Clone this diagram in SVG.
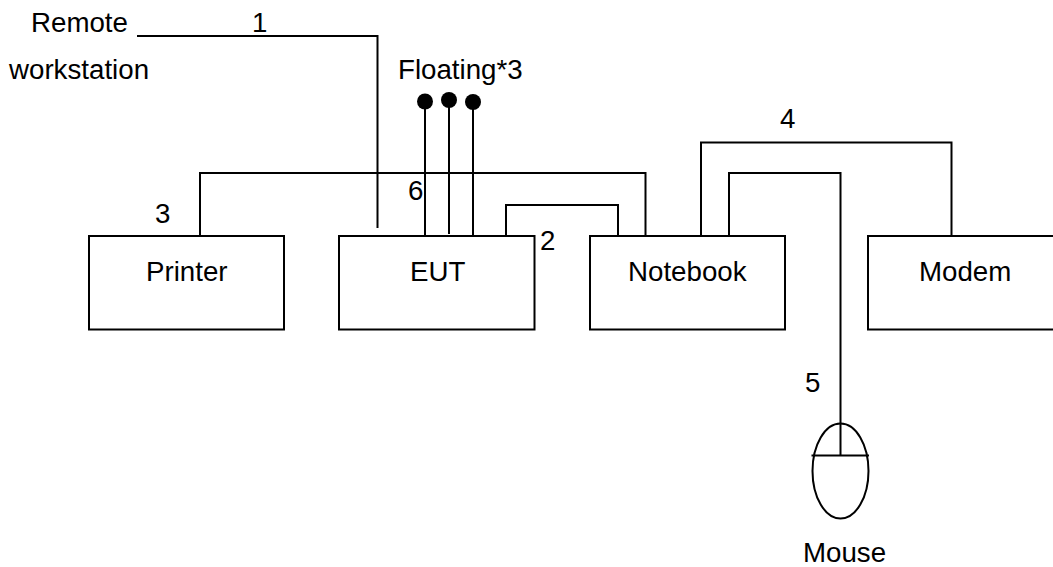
<svg xmlns="http://www.w3.org/2000/svg" width="1053" height="567" viewBox="0 0 1053 567">
<style>
text{font-family:"Liberation Sans",Arial,sans-serif;font-size:27.7px;fill:#000}
.b{fill:#fff;stroke:#000;stroke-width:2}
.c{fill:none;stroke:#000;stroke-width:2}
.d{fill:#000;stroke:none}
</style>
<rect width="1053" height="567" fill="#fff"/>
<g id="connectors">
<path class="c" d="M137 36H377.500V228"/>
<path class="c" d="M200 236V173H645.500V236"/>
<path class="c" d="M506 236V205H618V236"/>
<path class="c" d="M701 236V142.500H951.500V236"/>
<path class="c" d="M729 236V173H840.500V455"/>
<path class="c" d="M425 101V236M449 100V234M473 102V236"/>
</g>
<g id="printer"><rect class="b" x="89" y="236" width="195" height="93.500"/><text x="146" y="281">Printer</text></g>
<g id="eut"><rect class="b" x="339" y="236" width="195.500" height="93.500"/><text x="410" y="281">EUT</text></g>
<g id="notebook"><rect class="b" x="590" y="236" width="195" height="93.500"/><text x="628" y="281">Notebook</text></g>
<g id="modem"><rect class="b" x="868" y="236" width="195" height="93.500"/><text x="919" y="281">Modem</text></g>
<g id="mouse"><ellipse class="c" cx="840.500" cy="471" rx="28" ry="47.500"/><path class="c" d="M811.500 455.500H869"/><text x="803" y="562">Mouse</text></g>
<g id="floating"><circle class="d" cx="425" cy="101.500" r="8"/><circle class="d" cx="449" cy="100" r="8"/><circle class="d" cx="473" cy="102" r="8"/><text x="398" y="79">Floating*3</text></g>
<g id="remote"><text x="31" y="32">Remote</text><text x="9" y="79">workstation</text></g>
<g id="labels">
<text x="252" y="32">1</text>
<text x="540" y="250">2</text>
<text x="155" y="223">3</text>
<text x="780" y="128">4</text>
<text x="805" y="392">5</text>
<text x="408" y="200">6</text>
</g>
</svg>
